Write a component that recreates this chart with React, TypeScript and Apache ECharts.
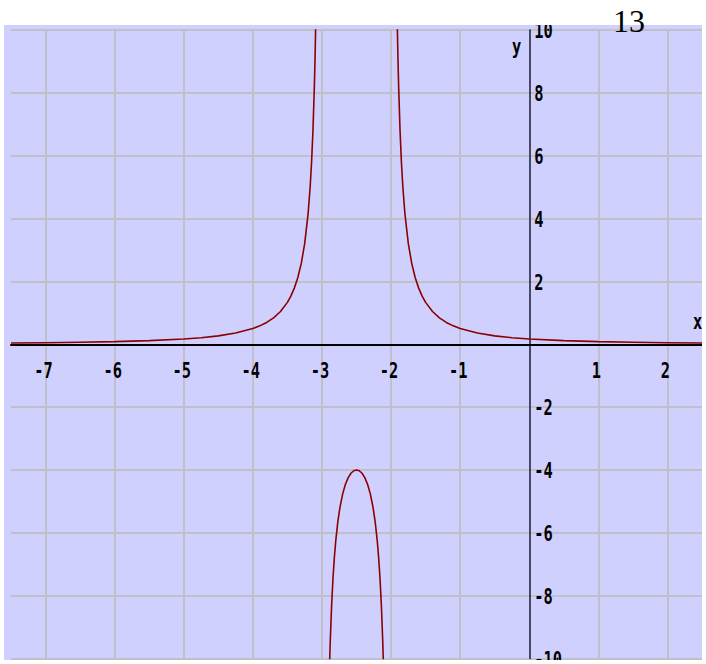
import React, { useEffect, useRef } from 'react';
import * as echarts from 'echarts';

// Curve: left branch, middle (negative) arch, right branch
const leftX = [-7.5, -7, -6.5, -6, -5.5, -5, -4.75, -4.5, -4.25, -4, -3.9, -3.8, -3.7, -3.6, -3.5, -3.45, -3.4, -3.35, -3.3, -3.25, -3.2, -3.17, -3.15, -3.13, -3.11, -3.1, -3.09];
const leftY = [0.04, 0.05, 0.064, 0.083, 0.114, 0.167, 0.208, 0.267, 0.356, 0.5, 0.585, 0.694, 0.84, 1.042, 1.333, 1.533, 1.786, 2.116, 2.564, 3.2, 4.167, 5.028, 5.797, 6.807, 8.19, 9.091, 10.19];

const midX = [-2.89, -2.88, -2.86, -2.84, -2.82, -2.8, -2.77, -2.74, -2.7, -2.66, -2.62, -2.58, -2.54, -2.5, -2.46, -2.42, -2.38, -2.34, -2.3, -2.26, -2.23, -2.2, -2.18, -2.16, -2.14, -2.12, -2.11];
const midY = [-10.21, -9.47, -8.306, -7.44, -6.775, -6.25, -5.647, -5.198, -4.762, -4.456, -4.244, -4.105, -4.026, -4, -4.026, -4.105, -4.244, -4.456, -4.762, -5.198, -5.647, -6.25, -6.775, -7.44, -8.306, -9.47, -10.21];

const rightX = [-1.91, -1.9, -1.89, -1.87, -1.85, -1.83, -1.8, -1.75, -1.7, -1.65, -1.6, -1.55, -1.5, -1.4, -1.3, -1.2, -1.1, -1, -0.75, -0.5, -0.25, 0, 0.5, 1, 1.5, 2, 2.5];
const rightY = [10.19, 9.091, 8.19, 6.807, 5.797, 5.028, 4.167, 3.2, 2.564, 2.116, 1.786, 1.533, 1.333, 1.042, 0.84, 0.694, 0.585, 0.5, 0.356, 0.267, 0.208, 0.167, 0.114, 0.083, 0.064, 0.05, 0.04];

// Axis ranges, gridlines and tick labels
const xRange = [-7.5, 2.5];
const yRange = [-10, 10];
const xGridTicks = [-7, -6, -5, -4, -3, -2, -1, 1, 2];
const xTickLabels = ['-7', '-6', '-5', '-4', '-3', '-2', '-1', '1', '2'];
const yTickValues = [10, 8, 6, 4, 2, -2, -4, -6, -8, -10];
const yTickLabels = ['10', '8', '6', '4', '2', '-2', '-4', '-6', '-8', '-10'];
const xName = 'x';
const yName = 'y';
const pageNumber = '13';

const zip = (xs: number[], ys: number[]) => xs.map((x, i) => [x, ys[i]]);

const LABEL_FONT = "bold 22px 'DejaVu Sans Mono', monospace";
const LABEL_SCALE_X = 0.7;
const CURVE_COLOR = '#8b0000';
const GRID_COLOR = '#c0c0c8';

export default function App() {
  const ref = useRef<HTMLDivElement>(null);
  useEffect(() => {
    const chart = echarts.init(ref.current!, null, { renderer: 'svg' });
    const curve = (name: string, xs: number[], ys: number[]) => ({
      name,
      type: 'line',
      data: zip(xs, ys),
      showSymbol: false,
      symbol: 'none',
      lineStyle: { color: CURVE_COLOR, width: 1.6 },
      itemStyle: { color: CURVE_COLOR },
      clip: true,
      z: 10,
      silent: true,
    });
    chart.setOption({
      animation: false,
      backgroundColor: '#d0d0ff',
      grid: { left: 11, top: 30, width: 691, height: 628.5, containLabel: false, outerBoundsMode: 'none' },
      xAxis: {
        type: 'value',
        min: xRange[0],
        max: xRange[1],
        interval: 0.5,
        z: 5,
        axisLine: { onZero: true, lineStyle: { color: '#000', width: 2 } },
        axisTick: { show: false },
        splitLine: { show: false },
        axisLabel: { show: false },
      },
      yAxis: {
        type: 'value',
        min: yRange[0],
        max: yRange[1],
        interval: 2,
        z: 5,
        axisLine: { onZero: true, lineStyle: { color: '#1a1a33', width: 1.5 } },
        axisTick: { show: false },
        splitLine: { show: true, lineStyle: { color: GRID_COLOR, width: 2 } },
        axisLabel: { show: false },
      },
      series: [
        {
          name: 'grid',
          type: 'line',
          data: [],
          z: 1,
          silent: true,
          markLine: {
            silent: true,
            symbol: ['none', 'none'],
            label: { show: false },
            lineStyle: { color: GRID_COLOR, width: 2, type: 'solid' },
            data: xGridTicks.map((v) => ({ xAxis: v })),
          },
        },
        curve('left', leftX, leftY),
        curve('middle', midX, midY),
        curve('right', rightX, rightY),
      ],
    });

    const px = (x: number, y: number) => chart.convertToPixel({ gridIndex: 0 }, [x, y]) as number[];
    const labelStyle = (text: string, align: string) => ({
      text,
      font: LABEL_FONT,
      fill: '#000',
      align,
      verticalAlign: 'middle',
    });
    const elements: any[] = [];
    xGridTicks.forEach((v, i) => {
      const [cx, cy] = px(v, 0);
      elements.push({ type: 'text', z: 20, silent: true, x: cx - 2, y: cy + 25.5, scaleX: LABEL_SCALE_X, style: labelStyle(xTickLabels[i], 'center') });
    });
    yTickValues.forEach((v, i) => {
      const [cx, cy] = px(0, v);
      elements.push({ type: 'text', z: 20, silent: true, x: cx + 5, y: cy, scaleX: LABEL_SCALE_X, style: labelStyle(yTickLabels[i], 'left') });
    });
    {
      const [cx, cy] = px(xRange[1], 0);
      elements.push({ type: 'text', z: 20, silent: true, x: cx - 9, y: cy - 23, scaleX: LABEL_SCALE_X, style: labelStyle(xName, 'left') });
    }
    {
      const [cx, cy] = px(0, yRange[1]);
      elements.push({ type: 'text', z: 20, silent: true, x: cx - 8, y: cy + 16, scaleX: LABEL_SCALE_X, style: labelStyle(yName, 'right') });
    }
    // page frame (white margins) and page number
    elements.push(
      { type: 'rect', z: 100, silent: true, shape: { x: 0, y: 0, width: 706, height: 25 }, style: { fill: '#fff' } },
      { type: 'rect', z: 100, silent: true, shape: { x: 0, y: 660, width: 706, height: 4 }, style: { fill: '#fff' } },
      { type: 'rect', z: 100, silent: true, shape: { x: 0, y: 0, width: 4, height: 664 }, style: { fill: '#fff' } },
      { type: 'rect', z: 100, silent: true, shape: { x: 702, y: 0, width: 4, height: 664 }, style: { fill: '#fff' } },
      {
        type: 'text',
        z: 101,
        silent: true,
        x: 613,
        y: 21,
        style: { text: pageNumber, font: "32px 'Liberation Serif', 'DejaVu Serif', serif", fill: '#000', align: 'left', verticalAlign: 'middle' },
      }
    );
    chart.setOption({ graphic: { elements } });
    return () => chart.dispose();
  }, []);
  return <div ref={ref} style={{ position: 'fixed', left: 0, top: 0, width: 706, height: 664 }} />;
}
